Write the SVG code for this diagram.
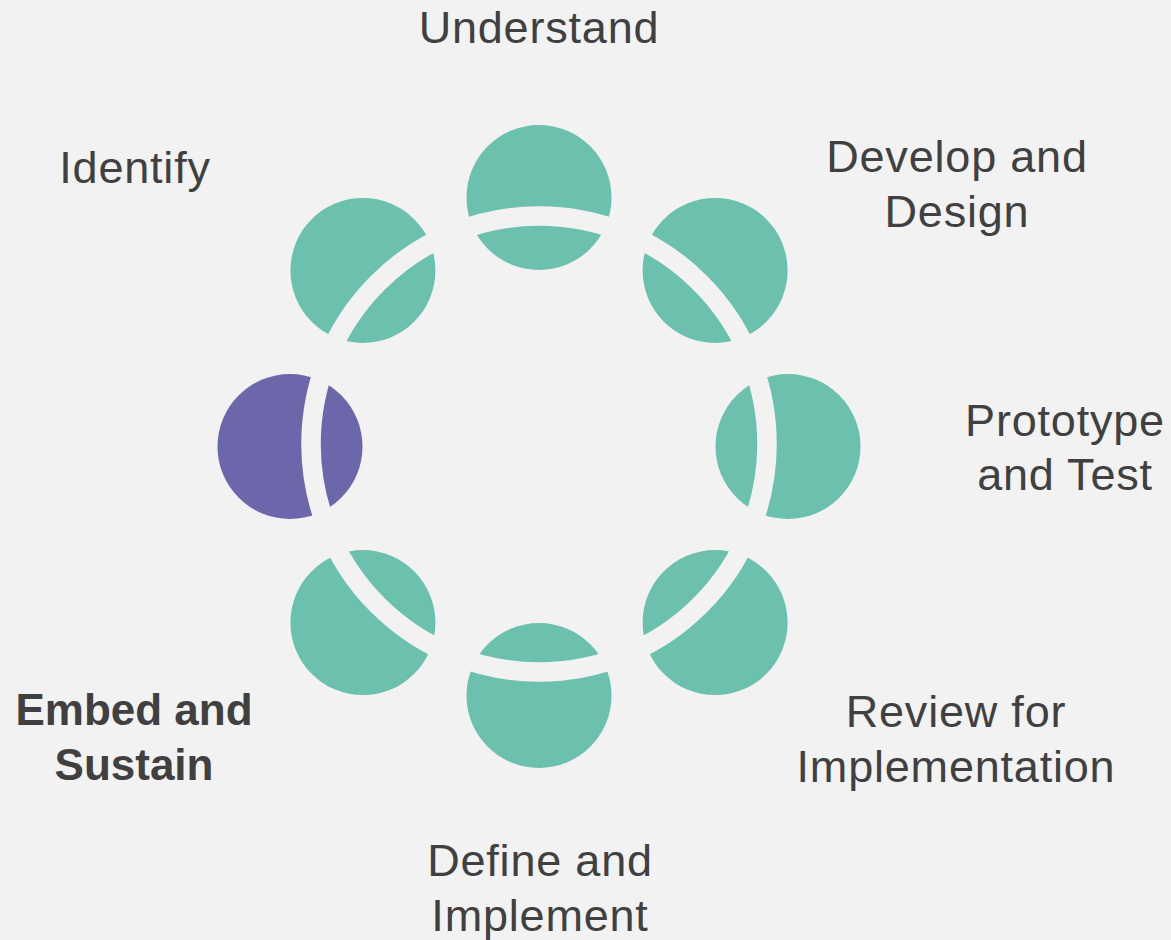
<svg xmlns="http://www.w3.org/2000/svg" width="1171" height="940" viewBox="0 0 1171 940">
<style>
.bg{fill:#F2F2F2}
.teal{fill:#6CC1AE}
.purple{fill:#6C67AB}
.lbl{font-family:"Liberation Sans",Arial,sans-serif;font-size:45px;fill:#404040;text-anchor:middle;letter-spacing:0.8px}
.bold{font-weight:bold;font-size:44px;letter-spacing:0}
</style>
<defs>
<mask id="band" maskUnits="userSpaceOnUse" x="0" y="0" width="1171" height="940">
<rect x="0" y="0" width="1171" height="940" fill="#fff"/>
<circle cx="539" cy="444" r="228" fill="none" stroke="#000" stroke-width="19.5"/>
</mask>
</defs>
<rect class="bg" x="0" y="0" width="1171" height="940"/>
<g id="connectors"></g>
<g id="node-understand">
<circle class="teal" cx="539" cy="197.5" r="72.5" mask="url(#band)"/>
<text class="lbl" x="539" y="43">Understand</text>
</g>
<g id="node-develop">
<circle class="teal" cx="715.1" cy="270.4" r="72.5" mask="url(#band)"/>
<text class="lbl" x="957" y="172">Develop and</text>
<text class="lbl" x="957" y="227">Design</text>
</g>
<g id="node-prototype">
<circle class="teal" cx="788" cy="446.5" r="72.5" mask="url(#band)"/>
<text class="lbl" x="1065" y="436">Prototype</text>
<text class="lbl" x="1065" y="490">and Test</text>
</g>
<g id="node-review">
<circle class="teal" cx="715.1" cy="622.6" r="72.5" mask="url(#band)"/>
<text class="lbl" x="956" y="727">Review for</text>
<text class="lbl" x="956" y="782">Implementation</text>
</g>
<g id="node-define">
<circle class="teal" cx="539" cy="695.5" r="72.5" mask="url(#band)"/>
<text class="lbl" x="540" y="876">Define and</text>
<text class="lbl" x="540" y="931">Implement</text>
</g>
<g id="node-embed">
<circle class="teal" cx="362.9" cy="622.6" r="72.5" mask="url(#band)"/>
<text class="lbl bold" x="134" y="725">Embed and</text>
<text class="lbl bold" x="134" y="780">Sustain</text>
</g>
<g id="node-current">
<circle class="purple" cx="290" cy="446.5" r="72.5" mask="url(#band)"/>
</g>
<g id="node-identify">
<circle class="teal" cx="362.9" cy="270.4" r="72.5" mask="url(#band)"/>
<text class="lbl" x="135" y="183">Identify</text>
</g>
</svg>
